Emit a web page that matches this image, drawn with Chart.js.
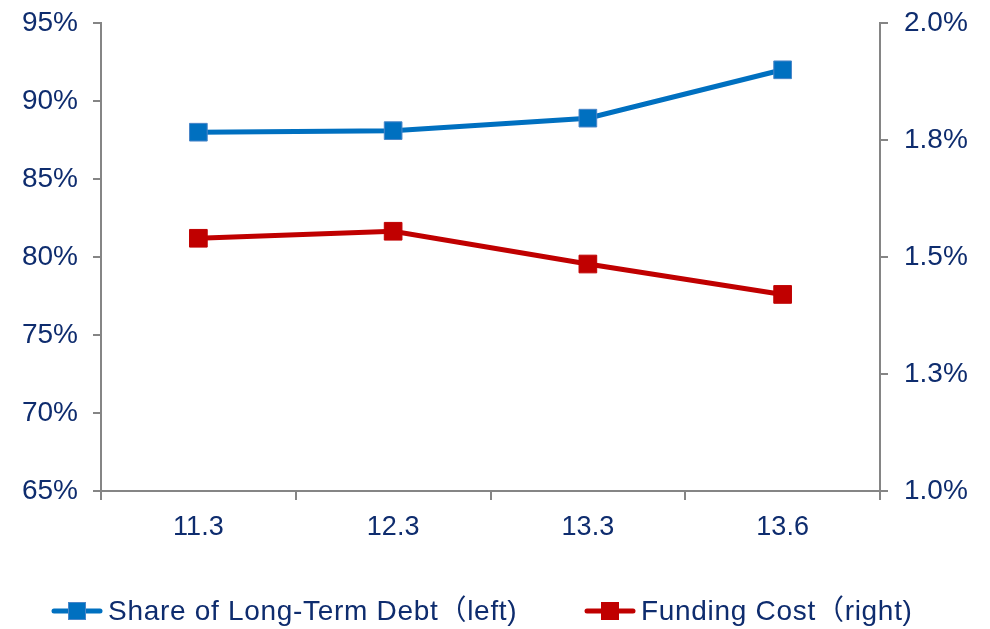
<!DOCTYPE html>
<html>
<head>
<meta charset="utf-8">
<script src="https://cdn.jsdelivr.net/npm/chart.js@4"></script>
<style>
  html, body { margin: 0; padding: 0; background: #fff; }
  #wrap { width: 990px; height: 629px; position: relative; }
</style>
</head>
<body>
<div id="wrap"><canvas id="debtChart" width="990" height="629"></canvas></div>
<script>
var periods = ['11.3', '12.3', '13.3', '13.6'];
var longTermShare = [88.0, 88.1, 88.9, 92.0];     // % of total debt, left axis
var fundingCost = [1.54, 1.555, 1.485, 1.42];     // %, right axis
var seriesNames = ['Share of Long-Term Debt\uFF08left)', 'Funding Cost\uFF08right)'];

var FONT = "'Liberation Sans', Arial, 'Noto Sans CJK SC', sans-serif";
var TEXT = '#0E2C6E';
var AXIS = '#858585';
var BLUE = '#0070C0';
var RED = '#C00000';

// legend under the chart: short line with a square marker, then the label
var bottomLegend = {
    id: 'bottomLegend',
    afterDraw: function(chart, args, opts) {
        var ctx = chart.ctx;
        ctx.save();
        ctx.font = '28px ' + FONT;
        ctx.letterSpacing = '0.7px';
        ctx.textBaseline = 'middle';
        chart.data.datasets.forEach(function(ds, i) {
            var x = opts.starts[i], y = opts.y;
            ctx.strokeStyle = ds.borderColor;
            ctx.lineWidth = 5;
            ctx.lineCap = 'round';
            ctx.beginPath();
            ctx.moveTo(x + 2, y);
            ctx.lineTo(x + 48, y);
            ctx.stroke();
            ctx.fillStyle = ds.pointBackgroundColor;
            ctx.fillRect(x + 16, y - 9, 18, 18);
            ctx.strokeStyle = ds.pointBorderColor;
            ctx.lineWidth = 1;
            ctx.strokeRect(x + 16.5, y - 8.5, 17, 17);
            ctx.fillStyle = TEXT;
            ctx.textAlign = 'left';
            ctx.fillText(ds.label, x + 56, y + 1);
        });
        ctx.restore();
    }
};

// fixed axis widths; drop the automatic label overhang so the plot edges stay put
function fixWidth(w) {
    return function(scale) {
        scale.width = w;
        scale.paddingTop = 0;
        scale.paddingBottom = 0;
    };
}

var ctx = document.getElementById('debtChart').getContext('2d');
var debtChart = new Chart(ctx, {
    type: 'line',
    data: {
        labels: periods,
        datasets: [{
            label: seriesNames[0],
            data: longTermShare,
            yAxisID: 'y',
            borderColor: BLUE,
            borderWidth: 5,
            pointStyle: 'rect',
            pointRadius: 12.5,
            pointHoverRadius: 12.5,
            pointBackgroundColor: BLUE,
            pointBorderColor: '#4A86C8',
            pointBorderWidth: 1,
            tension: 0
        }, {
            label: seriesNames[1],
            data: fundingCost,
            yAxisID: 'y2',
            borderColor: RED,
            borderWidth: 5,
            pointStyle: 'rect',
            pointRadius: 12.5,
            pointHoverRadius: 12.5,
            pointBackgroundColor: RED,
            pointBorderColor: RED,
            pointBorderWidth: 1,
            tension: 0
        }]
    },
    options: {
        responsive: false,
        animation: false,
        layout: { padding: { top: 23, left: 0, right: 0, bottom: 0 } },
        plugins: {
            legend: { display: false },
            tooltip: { enabled: false },
            bottomLegend: { starts: [52, 585], y: 611 }
        },
        scales: {
            x: {
                offset: true,
                grid: {
                    offset: true,
                    drawOnChartArea: false,
                    color: AXIS,
                    lineWidth: 2,
                    tickLength: 9
                },
                border: { color: AXIS, width: 2 },
                ticks: { color: TEXT, font: { family: FONT, size: 27 }, padding: 11, maxRotation: 0 },
                afterFit: function(scale) { scale.height = 138; }
            },
            y: {
                position: 'left',
                min: 65,
                max: 95,
                ticks: {
                    stepSize: 5,
                    color: TEXT,
                    font: { family: FONT, size: 28 },
                    padding: 15,
                    callback: function(v) { return v + '%'; }
                },
                grid: { drawOnChartArea: false, color: AXIS, lineWidth: 2, tickLength: 8 },
                border: { color: AXIS, width: 2 },
                afterFit: fixWidth(101)
            },
            y2: {
                position: 'right',
                min: 1.0,
                max: 2.0,
                ticks: {
                    stepSize: 0.25,
                    color: TEXT,
                    font: { family: FONT, size: 28 },
                    padding: 16,
                    callback: function(v) { return (Math.round(v * 100) / 100).toFixed(1) + '%'; }
                },
                grid: { drawOnChartArea: false, color: AXIS, lineWidth: 2, tickLength: 8 },
                border: { color: AXIS, width: 2 },
                afterFit: fixWidth(110)
            }
        }
    },
    plugins: [bottomLegend]
});
</script>
</body>
</html>
